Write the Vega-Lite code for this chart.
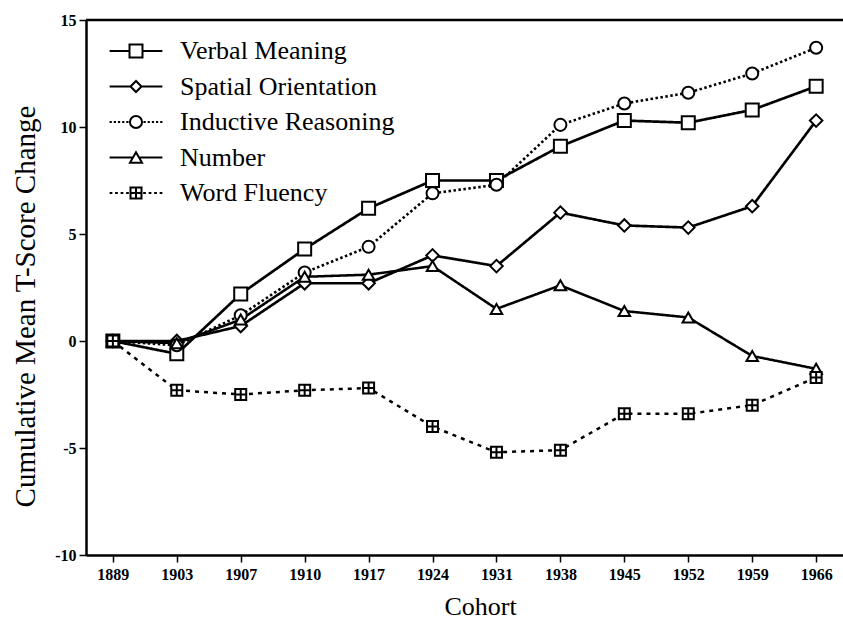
{
  "$schema": "https://vega.github.io/schema/vega-lite/v6.json",
  "width": 757,
  "height": 535,
  "autosize": {"type": "none"},
  "padding": {"left": 86, "top": 20, "right": 0, "bottom": 65},
  "background": "white",
  "config": {
    "view": {"stroke": null},
    "axis": {
      "grid": false,
      "domainColor": "black",
      "domainWidth": 2.5,
      "tickColor": "black",
      "tickWidth": 1.5,
      "tickSize": 7,
      "labelFont": "Liberation Serif",
      "labelFontWeight": "bold",
      "labelFontSize": 16,
      "labelColor": "black",
      "titleFont": "Liberation Serif",
      "titleFontWeight": "normal",
      "titleFontSize": 26,
      "titleColor": "black"
    }
  },
  "data": {
    "values": [
      {"cohort": "1889", "series": "Verbal Meaning", "value": 0},
      {"cohort": "1903", "series": "Verbal Meaning", "value": -0.6},
      {"cohort": "1907", "series": "Verbal Meaning", "value": 2.2},
      {"cohort": "1910", "series": "Verbal Meaning", "value": 4.3},
      {"cohort": "1917", "series": "Verbal Meaning", "value": 6.2},
      {"cohort": "1924", "series": "Verbal Meaning", "value": 7.5},
      {"cohort": "1931", "series": "Verbal Meaning", "value": 7.5},
      {"cohort": "1938", "series": "Verbal Meaning", "value": 9.1},
      {"cohort": "1945", "series": "Verbal Meaning", "value": 10.3},
      {"cohort": "1952", "series": "Verbal Meaning", "value": 10.2},
      {"cohort": "1959", "series": "Verbal Meaning", "value": 10.8},
      {"cohort": "1966", "series": "Verbal Meaning", "value": 11.9},
      {"cohort": "1889", "series": "Spatial Orientation", "value": 0},
      {"cohort": "1903", "series": "Spatial Orientation", "value": 0},
      {"cohort": "1907", "series": "Spatial Orientation", "value": 0.7},
      {"cohort": "1910", "series": "Spatial Orientation", "value": 2.7},
      {"cohort": "1917", "series": "Spatial Orientation", "value": 2.7},
      {"cohort": "1924", "series": "Spatial Orientation", "value": 4.0},
      {"cohort": "1931", "series": "Spatial Orientation", "value": 3.5},
      {"cohort": "1938", "series": "Spatial Orientation", "value": 6.0},
      {"cohort": "1945", "series": "Spatial Orientation", "value": 5.4},
      {"cohort": "1952", "series": "Spatial Orientation", "value": 5.3},
      {"cohort": "1959", "series": "Spatial Orientation", "value": 6.3},
      {"cohort": "1966", "series": "Spatial Orientation", "value": 10.3},
      {"cohort": "1889", "series": "Inductive Reasoning", "value": 0},
      {"cohort": "1903", "series": "Inductive Reasoning", "value": -0.2},
      {"cohort": "1907", "series": "Inductive Reasoning", "value": 1.2},
      {"cohort": "1910", "series": "Inductive Reasoning", "value": 3.2},
      {"cohort": "1917", "series": "Inductive Reasoning", "value": 4.4},
      {"cohort": "1924", "series": "Inductive Reasoning", "value": 6.9},
      {"cohort": "1931", "series": "Inductive Reasoning", "value": 7.3},
      {"cohort": "1938", "series": "Inductive Reasoning", "value": 10.1},
      {"cohort": "1945", "series": "Inductive Reasoning", "value": 11.1},
      {"cohort": "1952", "series": "Inductive Reasoning", "value": 11.6},
      {"cohort": "1959", "series": "Inductive Reasoning", "value": 12.5},
      {"cohort": "1966", "series": "Inductive Reasoning", "value": 13.7},
      {"cohort": "1889", "series": "Number", "value": 0},
      {"cohort": "1903", "series": "Number", "value": -0.1},
      {"cohort": "1907", "series": "Number", "value": 1.0},
      {"cohort": "1910", "series": "Number", "value": 3.0},
      {"cohort": "1917", "series": "Number", "value": 3.1},
      {"cohort": "1924", "series": "Number", "value": 3.5},
      {"cohort": "1931", "series": "Number", "value": 1.5},
      {"cohort": "1938", "series": "Number", "value": 2.6},
      {"cohort": "1945", "series": "Number", "value": 1.4},
      {"cohort": "1952", "series": "Number", "value": 1.1},
      {"cohort": "1959", "series": "Number", "value": -0.7},
      {"cohort": "1966", "series": "Number", "value": -1.3},
      {"cohort": "1889", "series": "Word Fluency", "value": 0},
      {"cohort": "1903", "series": "Word Fluency", "value": -2.3},
      {"cohort": "1907", "series": "Word Fluency", "value": -2.5},
      {"cohort": "1910", "series": "Word Fluency", "value": -2.3},
      {"cohort": "1917", "series": "Word Fluency", "value": -2.2},
      {"cohort": "1924", "series": "Word Fluency", "value": -4.0},
      {"cohort": "1931", "series": "Word Fluency", "value": -5.2},
      {"cohort": "1938", "series": "Word Fluency", "value": -5.1},
      {"cohort": "1945", "series": "Word Fluency", "value": -3.4},
      {"cohort": "1952", "series": "Word Fluency", "value": -3.4},
      {"cohort": "1959", "series": "Word Fluency", "value": -3.0},
      {"cohort": "1966", "series": "Word Fluency", "value": -1.7}
    ]
  },
  "layer": [
    {
      "data": {"values": [{}]},
      "mark": {"type": "rule", "stroke": "black", "strokeWidth": 2.5},
      "encoding": {"y": {"datum": 15, "type": "quantitative", "scale": {"domain": [-10, 15], "nice": false}}}
    },
    {
      "mark": {"type": "line", "stroke": "black"},
      "encoding": {
        "x": {"field": "cohort", "type": "ordinal", "scale": {"type": "point", "padding": 0.42},
              "axis": {"labelAngle": 0, "labelPadding": 4, "titlePadding": 11, "titleX": 394}, "title": "Cohort"},
        "y": {"field": "value", "type": "quantitative", "scale": {"domain": [-10, 15], "nice": false},
              "axis": {"values": [-10, -5, 0, 5, 10, 15], "labelExpr": "'' + datum.value", "labelPadding": 3,
                       "titlePadding": 14, "titleFontSize": 29, "titleY": 286},
              "title": "Cumulative Mean T-Score Change"},
        "detail": {"field": "series"},
        "strokeDash": {"field": "series", "scale": {"domain": ["Verbal Meaning", "Spatial Orientation", "Inductive Reasoning", "Number", "Word Fluency"],
                       "range": [[1, 0], [1, 0], [2.5, 2.5], [1, 0], [4, 5]]}, "legend": null},
        "strokeWidth": {"field": "series", "scale": {"domain": ["Verbal Meaning", "Spatial Orientation", "Inductive Reasoning", "Number", "Word Fluency"],
                       "range": [2.7, 2.5, 2, 2.5, 2.3]}, "legend": null}
      }
    },
    {
      "mark": {"type": "point", "filled": true, "fill": "white", "stroke": "black", "strokeWidth": 2, "opacity": 1},
      "encoding": {
        "x": {"field": "cohort", "type": "ordinal"},
        "y": {"field": "value", "type": "quantitative"},
        "shape": {"field": "series", "scale": {"domain": ["Verbal Meaning", "Spatial Orientation", "Inductive Reasoning", "Number", "Word Fluency"],
                  "range": ["square", "diamond", "circle", "triangle-up", "M-1,-1H1V1H-1ZM0,-1V1M-1,0H1"]}, "legend": null},
        "size": {"field": "series", "scale": {"domain": ["Verbal Meaning", "Spatial Orientation", "Inductive Reasoning", "Number", "Word Fluency"],
                  "range": [169, 121, 144, 144, 121]}, "legend": null}
      }
    },
    {
      "mark": {"type": "point", "filled": false, "stroke": "black", "strokeWidth": 2, "opacity": 0},
      "encoding": {
        "x": {"field": "cohort", "type": "ordinal"},
        "y": {"field": "value", "type": "quantitative"},
        "shape": {
          "field": "series",
          "scale": {
            "domain": ["Verbal Meaning", "Spatial Orientation", "Inductive Reasoning", "Number", "Word Fluency"],
            "range": [
              "M-2.4,0H-0.59M0.59,0H2.4M-0.59,-0.59H0.59V0.59H-0.59Z",
              "M-2.4,0H-0.5M0.5,0H2.4M-0.5,0L0,-0.5L0.5,0L0,0.5Z",
              "M-2.4,0H-2.2M-2.02,0H-1.82M-1.64,0H-1.44M-1.26,0H-1.06M-0.88,0H-0.68M0.68,0H0.88M1.06,0H1.26M1.44,0H1.64M1.82,0H2.02M2.2,0H2.4M0.55,0A0.55,0.55 0 1,1 -0.55,0A0.55,0.55 0 1,1 0.55,0Z",
              "M-2.4,0H-0.27M0.27,0H2.4M0,-0.48L-0.55,0.48L0.55,0.48Z",
              "M-2.4,0H-2.15M-1.9,0H-1.65M-1.4,0H-1.15M-0.9,0H-0.65M0.65,0H0.9M1.15,0H1.4M1.65,0H1.9M2.15,0H2.4M-0.5,-0.5H0.5V0.5H-0.5ZM0,-0.5V0.5M-0.5,0H0.5"
            ]
          },
          "legend": {
            "title": null,
            "orient": "none",
            "legendX": 37,
            "legendY": 18,
            "padding": 0,
            "symbolSize": 484,
            "symbolStrokeWidth": 2,
            "symbolFillColor": "white",
            "symbolStrokeColor": "black",
            "symbolOpacity": 1,
            "labelFont": "Liberation Serif",
            "labelFontSize": 26,
            "labelColor": "black",
            "labelOffset": 31,
            "labelLimit": 400,
            "rowPadding": 9.5
          }
        }
      }
    }
  ],
  "resolve": {"scale": {"shape": "independent"}}
}
